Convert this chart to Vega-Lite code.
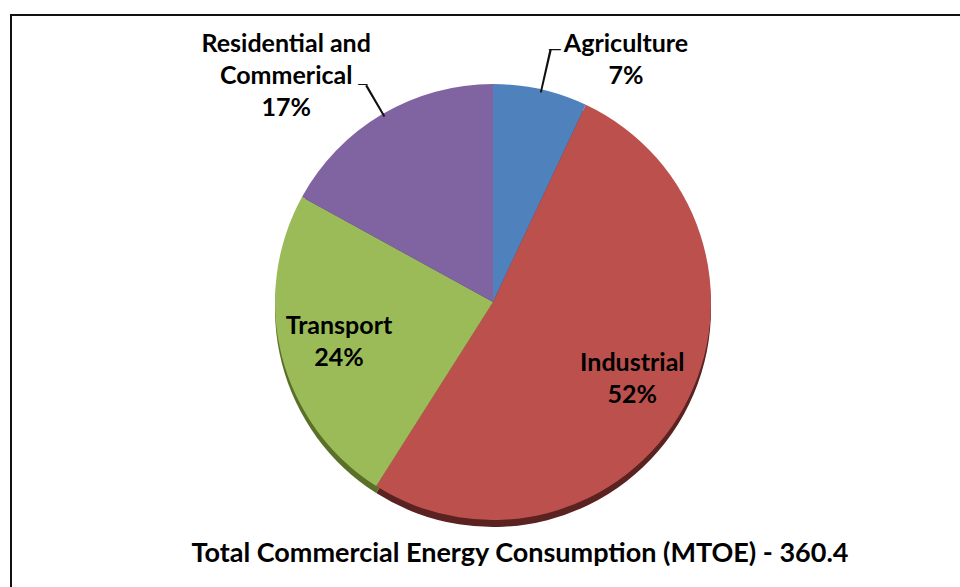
{
  "$schema": "https://vega.github.io/schema/vega-lite/v6.json",
  "width": 964,
  "height": 574,
  "autosize": {"type": "none"},
  "padding": {"left": 11, "top": 15, "right": 0, "bottom": 0},
  "background": "white",
  "view": {"stroke": "#111111", "strokeWidth": 2},
  "title": {
    "text": "Total Commercial Energy Consumption (MTOE) - 360.4",
    "orient": "bottom",
    "offset": -48,
    "dx": 27,
    "font": "Lato",
    "fontSize": 27,
    "fontWeight": "bold",
    "color": "#000000"
  },
  "data": {
    "values": [
      {"sector": "Agriculture", "share": 7, "order": 1, "label": "Agriculture|7%"},
      {"sector": "Industrial", "share": 52, "order": 2, "label": "Industrial|52%"},
      {"sector": "Transport", "share": 24, "order": 3, "label": "Transport|24%"},
      {"sector": "Residential and Commerical", "share": 17, "order": 4, "label": "Residential and|Commerical|17%"}
    ]
  },
  "transform": [
    {"calculate": "split(datum.label, '|')", "as": "lines"},
    {"window": [{"op": "sum", "field": "share", "as": "cum"}], "sort": [{"field": "order"}]},
    {"calculate": "datum.cum - datum.share / 2", "as": "mid"}
  ],
  "layer": [
    {
      "mark": {"type": "arc", "radius": 218, "yOffset": 7},
      "encoding": {
        "theta": {"field": "share", "type": "quantitative", "stack": true},
        "order": {"field": "order", "type": "quantitative"},
        "fill": {
          "field": "sector",
          "type": "nominal",
          "scale": {
            "domain": ["Agriculture", "Industrial", "Transport", "Residential and Commerical"],
            "range": ["#2c4a70", "#5a2220", "#5a7028", "#4a3a60"]
          },
          "legend": null
        }
      }
    },
    {
      "mark": {"type": "arc", "radius": 218},
      "encoding": {
        "theta": {"field": "share", "type": "quantitative", "stack": true},
        "order": {"field": "order", "type": "quantitative"},
        "color": {
          "field": "sector",
          "type": "nominal",
          "scale": {
            "domain": ["Agriculture", "Industrial", "Transport", "Residential and Commerical"],
            "range": ["#4f81bd", "#bc504d", "#9bbb59", "#8064a2"]
          },
          "legend": null
        }
      }
    },
    {
      "transform": [{"filter": "datum.order == 1"}],
      "mark": {"type": "arc", "radius": 215, "radius2": 259, "theta2Offset": 0.009, "color": "#111111"},
      "encoding": {
        "theta": {"field": "mid", "type": "quantitative", "stack": false},
        "theta2": {"field": "mid"}
      }
    },
    {
      "transform": [{"filter": "datum.order == 4"}],
      "mark": {"type": "arc", "radius": 215, "radius2": 251, "theta2Offset": 0.009, "color": "#111111"},
      "encoding": {
        "theta": {"field": "mid", "type": "quantitative", "stack": false},
        "theta2": {"field": "mid"}
      }
    },
    {
      "mark": {"type": "text", "radius": 259.5, "thetaOffset": 0.021, "font": "Lato", "fontSize": 18, "color": "#111111", "align": "center", "baseline": "middle"},
      "encoding": {
        "theta": {"field": "share", "type": "quantitative", "stack": true},
        "order": {"field": "order", "type": "quantitative"},
        "text": {"condition": {"test": "datum.order == 1", "value": "—"}, "value": ""}
      }
    },
    {
      "mark": {"type": "text", "radius": 253, "thetaOffset": -0.007, "font": "Lato", "fontSize": 14, "color": "#111111", "align": "center", "baseline": "middle"},
      "encoding": {
        "theta": {"field": "share", "type": "quantitative", "stack": true},
        "order": {"field": "order", "type": "quantitative"},
        "text": {"condition": {"test": "datum.order == 4", "value": "—"}, "value": ""}
      }
    },
    {
      "mark": {"type": "text", "radius": 159, "dy": -16, "font": "Lato", "fontSize": 25, "fontWeight": "bold", "lineHeight": 32, "color": "#000000", "align": "center", "baseline": "middle"},
      "encoding": {
        "theta": {"field": "share", "type": "quantitative", "stack": true},
        "order": {"field": "order", "type": "quantitative"},
        "text": {"condition": {"test": "datum.order == 2 || datum.order == 3", "field": "lines"}, "value": ""}
      }
    },
    {
      "mark": {"type": "text", "radius": 276, "thetaOffset": 0.283, "dy": -16, "font": "Lato", "fontSize": 25, "fontWeight": "bold", "lineHeight": 32, "color": "#000000", "align": "center", "baseline": "middle"},
      "encoding": {
        "theta": {"field": "share", "type": "quantitative", "stack": true},
        "order": {"field": "order", "type": "quantitative"},
        "text": {"condition": {"test": "datum.order == 1", "field": "lines"}, "value": ""}
      }
    },
    {
      "mark": {"type": "text", "radius": 306, "thetaOffset": -0.208, "dy": -32, "font": "Lato", "fontSize": 25, "fontWeight": "bold", "lineHeight": 32, "color": "#000000", "align": "center", "baseline": "middle"},
      "encoding": {
        "theta": {"field": "share", "type": "quantitative", "stack": true},
        "order": {"field": "order", "type": "quantitative"},
        "text": {"condition": {"test": "datum.order == 4", "field": "lines"}, "value": ""}
      }
    }
  ]
}
